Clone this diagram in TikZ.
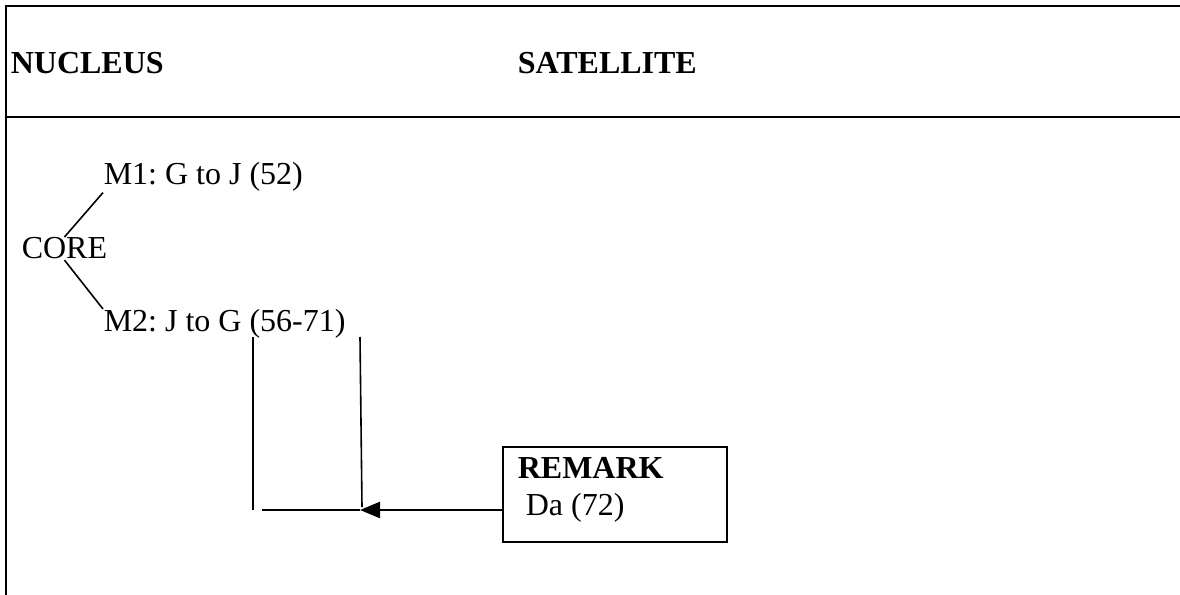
\documentclass[tikz,border=0pt]{standalone}
\usepackage{fontspec}
\setmainfont{Liberation Serif}
\usetikzlibrary{arrows.meta}
\frenchspacing

\begin{document}
\begin{tikzpicture}[x=0.375pt,y=-0.375pt,line width=0.6pt]
    \tikzstyle{move text}=[anchor=base west,inner sep=0pt,font=\fontsize{12}{14}\selectfont]
    \tikzstyle{col head}=[move text,font=\fontsize{12}{14}\selectfont\bfseries]
    \tikzstyle{frame}=[line width=0.9pt]
    \tikzstyle{remark box}=[draw,line width=0.8pt,minimum width=84pt,minimum height=35.6pt,inner sep=0pt]
    \tikzstyle{pointer}=[-{Triangle[length=7.5pt,width=6pt]},line width=0.9pt]
    \useasboundingbox (0,0) rectangle (1180,595);

    % Draw the table frame
    \draw[frame] (6,595) -- (6,6) -- (1180,6);
    \draw[frame] (6,117) -- (1180,117);

    % Column heads
    \node[col head] (nucleus) at (10,74) {NUCLEUS};
    \node[col head] (satellite) at (517,74) {SATELLITE};

    % Core and its two moves
    \node[move text] (core) at (21,259) {CORE};
    \node[move text] (m1) at (103,185) {M1: G to J (52)};
    \node[move text] (m2) at (103,332) {M2: J to G (56-71)};
    \path (core.north) edge (m1.south west);
    \path (core.south) edge (m2.north west);

    % Remark box
    \node[remark box] (remark) at (615,494.5) {};
    \node[col head] (remark title) at (517,479) {REMARK};
    \node[move text] (remark text) at (525,515) {Da (72)};

    % Bracket under M2 and the pointer from the remark
    \coordinate (b-tl) at (253,337);
    \coordinate (b-bl) at (253,510);
    \coordinate (b-tr) at (360,337);
    \coordinate (b-br) at (362,507);
    \coordinate (b-h) at (262,510);
    \coordinate (tip) at (360,510);
    \draw (b-tl) -- (b-bl);
    \draw (b-tr) -- (b-br);
    \draw (b-h) -- (tip);
    \draw[pointer] (remark.west |- tip) -- (tip);
\end{tikzpicture}
\end{document}
